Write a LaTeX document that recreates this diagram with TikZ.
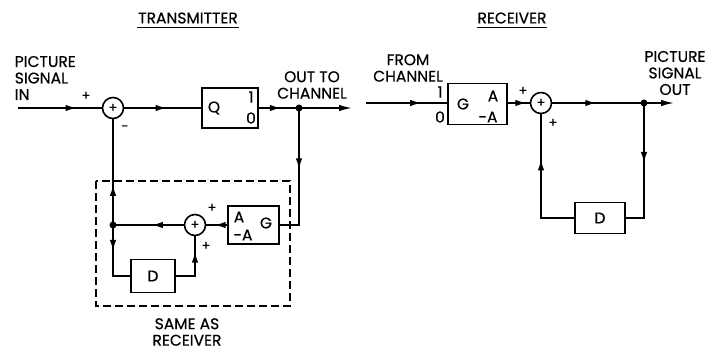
\documentclass[tikz,border=0pt]{standalone}
\usepackage{fontspec}
\setmainfont{Poppins}[FakeBold=0.5]
\usetikzlibrary{arrows.meta,decorations.markings}

\begin{document}
\begin{tikzpicture}[x=1pt, y=-1pt, line width=1.6pt,
    every node/.style={font=\fontsize{15.5}{16.5}\selectfont, inner sep=0pt},
    blockbox/.style n args={2}{draw, rectangle, minimum width=#1, minimum height=#2},
    summer/.style={draw, circle, minimum size=21pt, font=\fontsize{13}{13}\selectfont},
    signtext/.style={font=\fontsize{13}{13}\selectfont},
    junction/.style={circle, fill, minimum size=7pt},
    midarrow/.style={postaction={decorate}, decoration={markings,
        mark=at position #1 with {\arrow{Latex[length=11pt,width=6.5pt]}}}},
    outarrow/.style={-{Latex[length=13pt,width=6.5pt]}}]

    % Page frame
    \useasboundingbox (0,0) rectangle (706,352);

    % Titles
    \node (txtitle) at (188,18) {TRANSMITTER};
    \node (rxtitle) at (512,18) {RECEIVER};
    \draw[line width=1.5pt] ([yshift=-3pt]txtitle.south west) -- ([yshift=-3pt]txtitle.south east);
    \draw[line width=1.5pt] ([yshift=-3pt]rxtitle.south west) -- ([yshift=-3pt]rxtitle.south east);

    % ---------------- Transmitter ----------------
    \node[anchor=west, align=left] (picin) at (14,78) {PICTURE\\SIGNAL\\IN};
    \coordinate (tin) at (18,108);
    \node[summer] (sumq) at (113,108) {+};
    \node[blockbox={56pt}{40pt}] (qbox) at (230,108) {};
    \node (qname) at (214,108) {Q};
    \node (qone) at (251,97) {1};
    \node (qzero) at (251,118) {0};
    \node[junction] (txdot) at (299,108) {};
    \coordinate (tout) at (352,108);
    \node[align=center] (outch) at (312,85) {OUT TO\\CHANNEL};

    % signs at the first summer
    \node[signtext] (plusin) at (86,96) {+};
    \node[signtext] (minusfb) at (125,128) {-};

    % local receiver (feedback path)
    \node[blockbox={51pt}{38pt}] (gtx) at (253.5,225) {};
    \node (gtxa) at (239,217) {A};
    \node (gtxna) at (243,235) {-A};
    \node (gtxg) at (266,223) {G};
    \node[summer] (sumtx) at (195,225) {+};
    \node[signtext] (plustxa) at (212,208) {+};
    \node[signtext] (plustxb) at (206,246) {+};
    \node[junction] (fbdot) at (113,225) {};
    \node[blockbox={44pt}{33pt}] (dtx) at (153,276) {D};
    \draw[line width=1.2pt, dash pattern=on 8pt off 4pt] (96,181) rectangle (290,306);
    \node[align=center] (sameas) at (187,332) {SAME AS\\RECEIVER};

    % transmitter connectors
    \draw[midarrow=0.7] (tin) -- (sumq.west);
    \draw[midarrow=0.55] (sumq.east) -- (qbox.west);
    \draw[midarrow=0.55] (qbox.east) -- (txdot.center);
    \draw[outarrow] (txdot.center) -- (tout);
    \draw[midarrow=0.45] (txdot.center) -- (txdot |- gtx.east) -- (gtx.east);
    \draw[midarrow=0.6] (gtx.west) -- (sumtx.east);
    \draw[midarrow=0.45] (sumtx.west) -- (fbdot.center);
    \draw[midarrow=0.38] (fbdot.center) -- (sumq.south);
    \draw[midarrow=0.38] (fbdot.center) -- (fbdot |- dtx.west) -- (dtx.west);
    \draw[midarrow=0.74] (dtx.east) -- (sumtx |- dtx.east) -- (sumtx.south);

    % ---------------- Receiver ----------------
    \node[align=center] (fromch) at (408,68) {FROM\\CHANNEL};
    \coordinate (rin) at (366,103);
    \node[blockbox={59pt}{41pt}] (grx) at (477.5,104) {};
    \node (grxg) at (463,104) {G};
    \node (grxa) at (493,96) {A};
    \node (grxna) at (488,117) {-A};
    \node (rxone) at (440,92) {1};
    \node (rxzero) at (440,117) {0};
    \node[summer] (sumrx) at (541,103) {+};
    \node[signtext] (plusrxa) at (523,91) {+};
    \node[signtext] (plusrxb) at (553,123) {+};
    \node[junction] (rxdot) at (644,103) {};
    \coordinate (rout) at (674,103);
    \node[align=center] (picout) at (675,73) {PICTURE\\SIGNAL\\OUT};
    \node[blockbox={50pt}{31pt}] (drx) at (600,218) {D};

    % receiver connectors
    \draw[midarrow=0.68] (rin) -- (grx.west |- rin);
    \draw[midarrow=0.85] (grx.east |- sumrx) -- (sumrx.west);
    \draw[midarrow=0.48] (sumrx.east) -- (rxdot.center);
    \draw[outarrow] (rxdot.center) -- (rout);
    \draw[midarrow=0.45] (rxdot.center) -- (rxdot |- drx.east) -- (drx.east);
    \draw[midarrow=0.67] (drx.west) -- (sumrx |- drx.west) -- (sumrx.south);
\end{tikzpicture}
\end{document}
